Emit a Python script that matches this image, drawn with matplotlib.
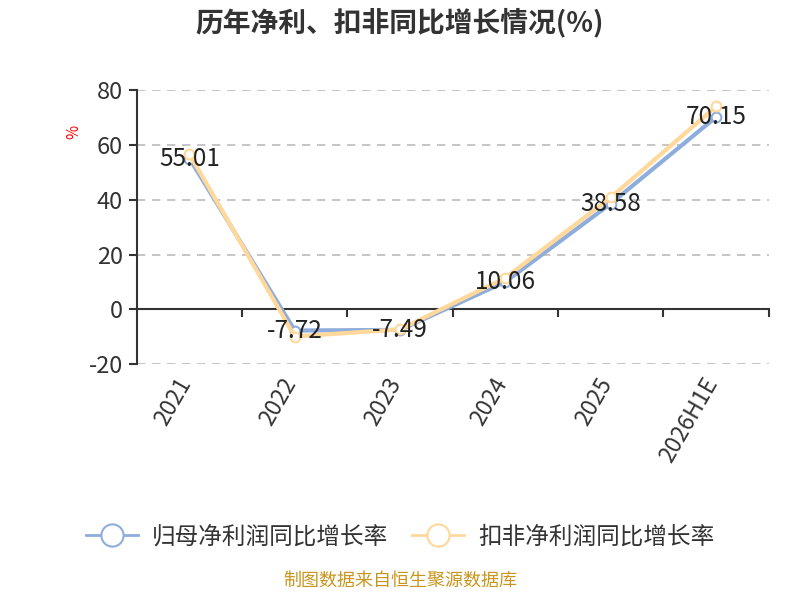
import matplotlib
matplotlib.use("Agg")
import matplotlib.pyplot as plt
from matplotlib.lines import Line2D

plt.rcParams['font.family'] = ['Noto Sans CJK SC', 'DejaVu Sans']

categories = ["2021", "2022", "2023", "2024", "2025", "2026H1E"]
net_profit_growth = [55.01, -7.72, -7.49, 10.06, 38.58, 70.15]
deducted_growth = [56.6, -9.9, -7.3, 11.5, 40.8, 74.0]
yticks = [-20, 0, 20, 40, 60, 80]

blue = "#8EADDC"
orange = "#FFD89A"

fig = plt.figure(figsize=(8, 6), dpi=100)
ax = fig.add_axes([0.171, 0.393, 0.79, 0.457])

x = list(range(len(categories)))
ax.plot(x, net_profit_growth, color=blue, lw=3, marker='o', ms=7,
        mfc='white', mec=blue, mew=1.5, zorder=3)
ax.plot(x, deducted_growth, color=orange, lw=3, marker='o', ms=7,
        mfc='white', mec=orange, mew=1.5, zorder=4)

for xi, v in zip(x, net_profit_growth):
    ax.text(xi, v, f"{v:.2f}", ha='center', va='center', fontsize=17.5,
            color='#222222', zorder=5)

ax.set_xlim(-0.5, len(categories) - 0.5)
ax.set_ylim(-20, 80)
ax.set_yticks(yticks)
ax.set_yticklabels([str(t) for t in yticks], fontsize=17, color='#333333')
ax.tick_params(axis='y', length=6, width=1.5, color='#333333', pad=4)
for t in yticks:
    ax.axhline(t, color='#BBBBBB', lw=1.2, ls=(0, (5, 4)), zorder=1)

for s in ['top', 'right']:
    ax.spines[s].set_visible(False)
ax.spines['left'].set_color('#333333')
ax.spines['left'].set_linewidth(1.5)
ax.spines['bottom'].set_position(('data', 0))
ax.spines['bottom'].set_color('#333333')
ax.spines['bottom'].set_linewidth(1.5)
ax.set_xticks([i + 0.5 for i in x])
ax.set_xticklabels([])
ax.tick_params(axis='x', length=6, width=1.5, color='#333333', direction='out')

for xi, c in zip(x, categories):
    ax.annotate(c, xy=(xi, -20), xycoords='data', xytext=(-10, -7),
                textcoords='offset points', rotation=60, ha='right', va='top',
                rotation_mode='anchor', fontsize=16.5, color='#333333')

fig.text(0.092, 0.78, "%", color='red', fontsize=11, rotation=90,
         ha='center', va='center')

fig.text(0.5, 0.962, "历年净利、扣非同比增长情况(%)", ha='center', va='center',
         fontsize=20, fontweight='bold', color='#333333')

handles = [Line2D([0], [0], color=blue, lw=2, marker='o', ms=16, mfc='white',
                  mec=blue, mew=1.5),
           Line2D([0], [0], color=orange, lw=2, marker='o', ms=16, mfc='white',
                  mec=orange, mew=1.5)]
fig.legend(handles, ["归母净利润同比增长率", "扣非净利润同比增长率"],
           loc='center', bbox_to_anchor=(0.5, 0.105), ncol=2, frameon=False,
           fontsize=17, handlelength=2.2, columnspacing=1.0, handletextpad=0.6,
           labelcolor='#333333')

fig.text(0.5, 0.018, "制图数据来自恒生聚源数据库", ha='center', va='bottom',
         fontsize=13, color='#C8961E')

fig.savefig("out.png", dpi=100)
